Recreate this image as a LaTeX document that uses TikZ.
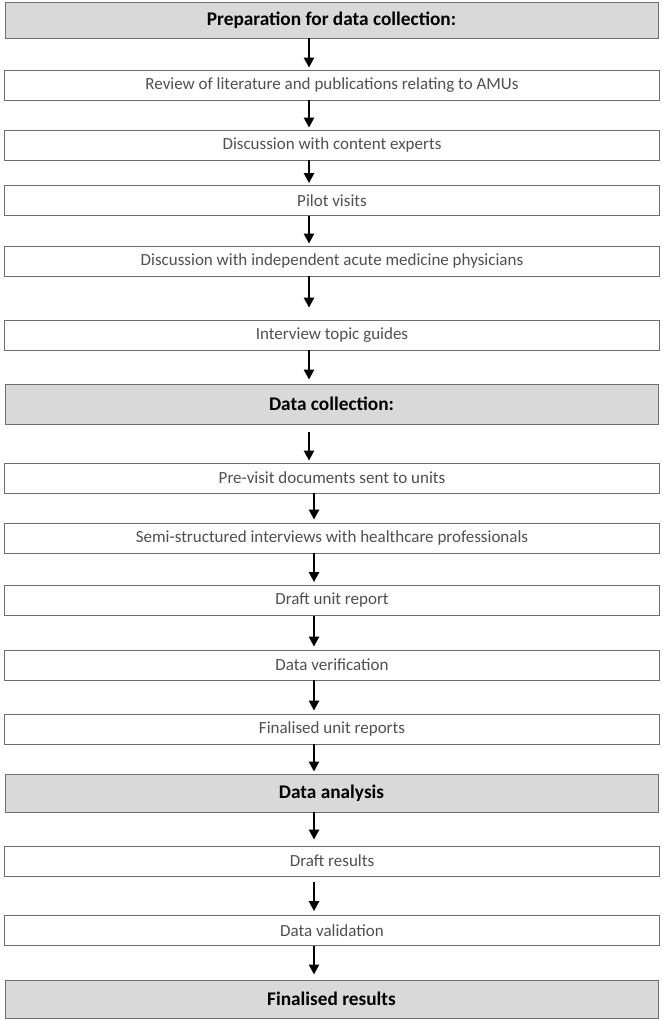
\documentclass[tikz,border=0pt]{standalone}
\usepackage{fontspec}
\setmainfont{Carlito}
\usepackage{tikz}
\usetikzlibrary{calc,arrows.meta}

\definecolor{headfill}{HTML}{D9D9D9}
\definecolor{boxline}{HTML}{6E6E6E}
\definecolor{textgrey}{HTML}{505050}

\tikzset{
  stage/.style={draw=boxline, line width=0.9pt, fill=headfill, minimum width=653, inner sep=0pt,
    font=\fontsize{19.3}{22}\selectfont\bfseries},
  task/.style={draw=boxline, line width=0.8pt, fill=white, minimum width=655, minimum height=30, inner sep=0pt,
    text=textgrey, font=\fontsize{17}{20}\selectfont},
  flow/.style={line width=2.4pt, -{Triangle[length=10pt,width=10pt]}}
}

\begin{document}
\begin{tikzpicture}[x=1pt,y=-1pt]
  \useasboundingbox (0,0) rectangle (663,1020);
  \coordinate (up) at (309,0);
  \coordinate (lo) at (314,0);
  \node[stage, minimum height=36] (prep) at (331.5,20) {Preparation for data collection:};
  \node[task] (review) at (332,85) {Review of literature and publications relating to AMUs};
  \node[task] (experts) at (332,145) {Discussion with content experts};
  \node[task] (pilot) at (332,200.5) {Pilot visits};
  \node[task] (physicians) at (332,261) {Discussion with independent acute medicine physicians};
  \node[task] (guides) at (332,335) {Interview topic guides};
  \node[stage, minimum height=40] (collect) at (331.5,404) {Data collection:};
  \node[task] (previsit) at (332,478) {Pre-visit documents sent to units};
  \node[task] (interviews) at (332,538) {Semi-structured interviews with healthcare professionals};
  \node[task] (draftunit) at (332,600.5) {Draft unit report};
  \node[task] (verify) at (332,665) {Data verification};
  \node[task] (finalunit) at (332,729) {Finalised unit reports};
  \node[stage, minimum height=38] (analysis) at (331.5,793) {Data analysis};
  \node[task] (draftres) at (332,861) {Draft results};
  \node[task] (validate) at (332,930.5) {Data validation};
  \node[stage, minimum height=38] (finalres) at (331.5,999) {Finalised results};
  \draw[flow] (prep.south -| up) -- ([yshift=2]review.north -| up);
  \draw[flow] (review.south -| up) -- ([yshift=2]experts.north -| up);
  \draw[flow] (experts.south -| up) -- ([yshift=2]pilot.north -| up);
  \draw[flow] (pilot.south -| up) -- ([yshift=2]physicians.north -| up);
  \draw[flow] (physicians.south -| up) -- ([yshift=12]guides.north -| up);
  \draw[flow] (guides.south -| up) -- ([yshift=4]collect.north -| up);
  \draw[flow] ([yshift=-8]collect.south -| up) -- ([yshift=2]previsit.north -| up);
  \draw[flow] (previsit.south -| lo) -- ([yshift=3]interviews.north -| lo);
  \draw[flow] (interviews.south -| lo) -- ([yshift=3]draftunit.north -| lo);
  \draw[flow] (draftunit.south -| lo) -- ([yshift=3]verify.north -| lo);
  \draw[flow] (verify.south -| lo) -- ([yshift=3]finalunit.north -| lo);
  \draw[flow] (finalunit.south -| lo) -- ([yshift=2]analysis.north -| lo);
  \draw[flow] (analysis.south -| lo) -- ([yshift=6]draftres.north -| lo);
  \draw[flow] ([yshift=-6]draftres.south -| lo) -- ([yshift=4]validate.north -| lo);
  \draw[flow] (validate.south -| lo) -- ([yshift=5]finalres.north -| lo);
\end{tikzpicture}
\end{document}
